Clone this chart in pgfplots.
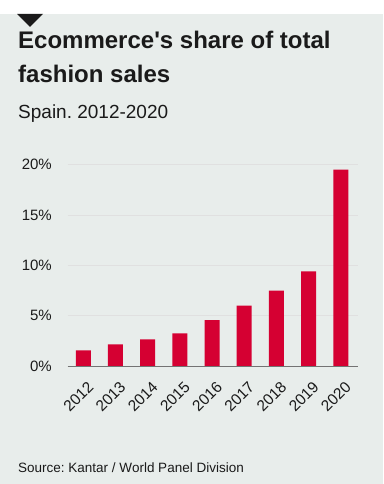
\documentclass[border=0pt]{standalone}
\usepackage{pgfplots}
\pgfplotsset{compat=1.18}
\usepackage{fontspec}
\setmainfont{Liberation Sans}
\frenchspacing
\definecolor{bg}{HTML}{E8EDEB}
\definecolor{barred}{HTML}{D50032}
\definecolor{txt}{HTML}{1A1A1A}
\begin{document}
\begin{tikzpicture}
\useasboundingbox (0pt,0pt) rectangle (383pt,-484pt);
\fill[white] (0pt,0pt) rectangle (383pt,-14pt);
\fill[bg] (0pt,-14pt) rectangle (383pt,-484pt);
\fill[txt] (17pt,-14pt) -- (43pt,-14pt) -- (30pt,-27pt) -- cycle;
\node[anchor=base west, inner sep=0pt, text=txt, font=\bfseries\fontsize{24}{28}\selectfont] at (18pt,-49pt) {Ecommerce\textquotesingle s share of total};
\node[anchor=base west, inner sep=0pt, text=txt, font=\bfseries\fontsize{24}{28}\selectfont] at (18pt,-83pt) {fashion sales};
\node[anchor=base west, inner sep=0pt, text=txt, font=\fontsize{19}{22}\selectfont] at (18pt,-118pt) {Spain. 2012-2020};
\node[anchor=base west, inner sep=0pt, text=txt, font=\fontsize{13.5}{16}\selectfont] at (18pt,-472pt) {Source: Kantar / World Panel Division};
\begin{axis}[
  at={(67.7pt,-366pt)}, anchor=south west,
  scale only axis, width=290pt, height=201.3pt,
  xmin=-0.485, xmax=8.525, ymin=0, ymax=20,
  axis line style={draw=none},
  ymajorgrids, grid style={color=black!12, line width=0.6pt},
  major tick length=0pt,
  ytick={0,5,10,15,20},
  yticklabel={\pgfmathprintnumber{\tick}\%},
  /pgf/number format/assume math mode=true,
  yticklabel style={font=\fontsize{15}{17}\selectfont, text=txt, anchor=east, inner sep=0pt, xshift=-15.7pt},
  xtick=data,
  xticklabels={2012,2013,2014,2015,2016,2017,2018,2019,2020},
  xticklabel style={font=\fontsize{15.5}{17}\selectfont, text=txt, inner sep=0pt, xshift=3.4pt, yshift=-14pt, rotate=45, anchor=north east},
  ybar, bar width=15pt,
  clip=false,
]
\addplot[fill=barred, draw=none, bar shift=0pt] coordinates {
(0,1.55) (1,2.15) (2,2.65) (3,3.25) (4,4.55) (5,6.0) (6,7.5) (7,9.4) (8,19.5)
};
\draw[black!55, line width=0.7pt] (rel axis cs:0,0) -- (rel axis cs:1,0);
\end{axis}
\end{tikzpicture}
\end{document}
